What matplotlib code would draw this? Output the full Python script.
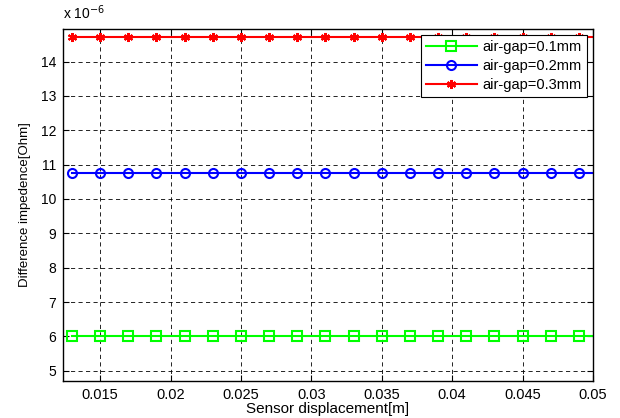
import numpy as np
import matplotlib
matplotlib.use('Agg')
import matplotlib.pyplot as plt

plt.rcParams['font.family'] = ['Liberation Sans', 'DejaVu Sans']

# desplazamiento del sensor [m]
displacement = np.round(np.arange(13, 51) * 1e-3, 3)
# niveles de impedancia (x 1e-6 Ohm) por entrehierro
levels = [6.0, 10.76, 14.73]
labels = ['air-gap=0.1mm', 'air-gap=0.2mm', 'air-gap=0.3mm']
colors = ['#00ff00', '#0000ff', '#ff0000']
markers = ['s', 'o', (6, 2, 0)]
msizes = [6.5, 6.5, 6.5]

xticks = [0.015, 0.02, 0.025, 0.03, 0.035, 0.04, 0.045, 0.05]
xticklabels = ['0.015', '0.02', '0.025', '0.03', '0.035', '0.04', '0.045', '0.05']
yticks = [5, 6, 7, 8, 9, 10, 11, 12, 13, 14]

fig = plt.figure(figsize=(6.2, 4.18), dpi=100)
ax = fig.add_axes([0.1016, 0.0885, 0.8548, 0.8421])

for lv, lab, c, m, ms in zip(levels, labels, colors, markers, msizes):
    ax.plot(displacement, [lv] * len(displacement), color=c, lw=1.5,
            marker=m, ms=ms, mfc='none', mec=c, mew=1.5, markevery=2,
            label=lab)

ax.set_xlim(0.01236, 0.05)
ax.set_ylim(4.70, 14.95)
ax.set_xticks(xticks)
ax.set_xticklabels(xticklabels)
ax.set_yticks(yticks)
ax.tick_params(direction='in', top=True, right=True, length=4, pad=5)
ax.tick_params(axis='x', labelsize=10.5)
ax.tick_params(axis='y', labelsize=10)
ax.grid(True, color='black', linestyle=(0, (5, 4)), linewidth=0.6)
for s in ax.spines.values():
    s.set_linewidth(1.0)

ax.set_xlabel('Sensor displacement[m]', fontsize=11, labelpad=0)
ax.set_ylabel('Difference impedence[Ohm]', fontsize=9.5, labelpad=7)
ax.text(0.0, 1.02, r'x 10$^{-6}$', transform=ax.transAxes, fontsize=10,
        ha='left', va='bottom')

leg = ax.legend(loc='upper right', fontsize=10.5, fancybox=False,
                framealpha=1, edgecolor='black', borderaxespad=0.4,
                handlelength=3.5, handletextpad=0.4, labelspacing=0.35,
                borderpad=0.35)
leg.get_frame().set_linewidth(0.8)

fig.savefig('out.png', dpi=100)
